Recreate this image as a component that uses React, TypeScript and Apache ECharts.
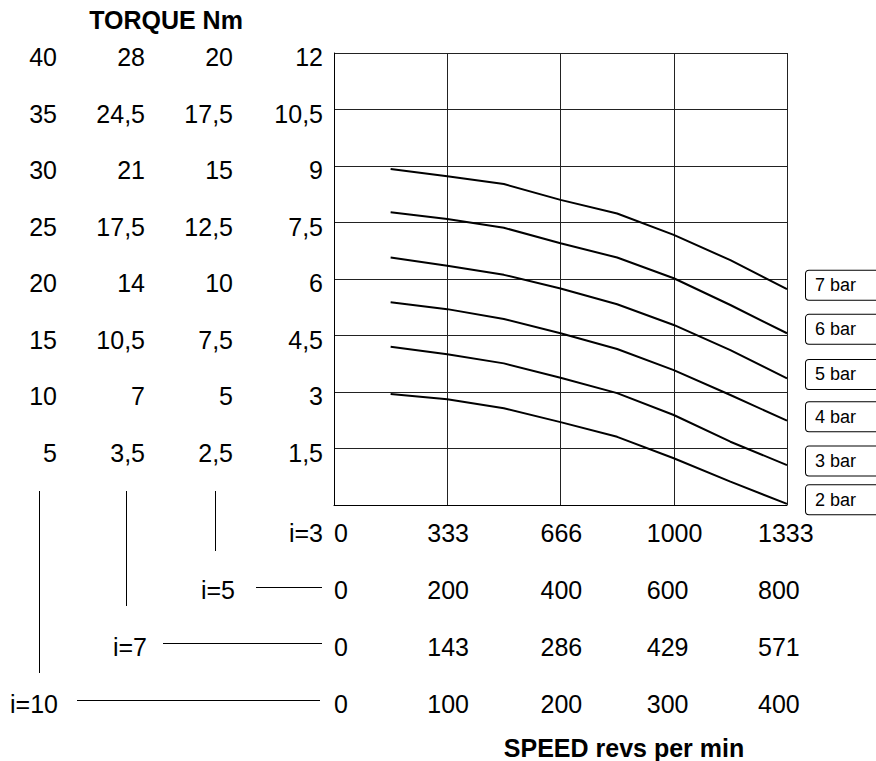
import React, { useEffect, useRef } from "react";
import * as echarts from "echarts";

// ---- data ----
const pressureNames = ["7 bar", "6 bar", "5 bar", "4 bar", "3 bar", "2 bar"];
// speed (rev/min) at i=10 for each sample point
const speedAtI10 = [50, 100, 150, 200, 250, 300, 350, 400];
// torque (Nm) at i=3
const torque7bar = [8.92, 8.73, 8.52, 8.1, 7.74, 7.17, 6.5, 5.73];
const torque6bar = [7.77, 7.59, 7.36, 6.95, 6.57, 6.02, 5.31, 4.56];
const torque5bar = [6.57, 6.35, 6.11, 5.75, 5.33, 4.78, 4.11, 3.36];
const torque4bar = [5.38, 5.2, 4.94, 4.56, 4.14, 3.58, 2.92, 2.24];
const torque3bar = [4.2, 4.0, 3.76, 3.38, 2.97, 2.39, 1.68, 1.06];
const torque2bar = [2.95, 2.81, 2.57, 2.2, 1.81, 1.24, 0.62, 0.03];
const curves = [torque7bar, torque6bar, torque5bar, torque4bar, torque3bar, torque2bar];

// gear ratios and their scales
const ratioLabels = ["i=3", "i=5", "i=7", "i=10"];
const torqueMax = [12, 20, 28, 40];
const torqueStep = [1.5, 2.5, 3.5, 5];
const speedLabelsI3 = ["0", "333", "666", "1000", "1333"];
const speedLabelsI5 = ["0", "200", "400", "600", "800"];
const speedLabelsI7 = ["0", "143", "286", "429", "571"];
const speedLabelsI10 = ["0", "100", "200", "300", "400"];
const speedLabelRows = [speedLabelsI3, speedLabelsI5, speedLabelsI7, speedLabelsI10];

const torqueTitle = "TORQUE Nm";
const speedTitle = "SPEED revs per min";

// ---- layout ----
const FONT = "'Liberation Sans', Arial, Helvetica, sans-serif";
const NUM_SIZE = 25;
const GRID = { left: 334, top: 53, width: 453, height: 452 };
const ROW_GAP = 57;
const YAXIS_OFFSETS = [0, 90, 178, 266];
const COL_WIDTHS = [10, 40, 40, 54, 58];

export default function App() {
  const ref = useRef<HTMLDivElement>(null);

  useEffect(() => {
    if (!ref.current) return;
    const chart = echarts.init(ref.current, undefined, { renderer: "svg" });

    const yRich = {
      v: { fontFamily: FONT, fontSize: NUM_SIZE, color: "#000", padding: [8, 0, 0, 0] },
    };

    const yAxes = torqueMax.map((mx, i) => ({
      type: "value",
      position: "left",
      min: 0,
      max: mx,
      interval: torqueStep[i],
      offset: YAXIS_OFFSETS[i],
      axisLine: { show: i === 0, lineStyle: { color: "#000", width: 1 } },
      axisTick: { show: false },
      splitLine: { show: i === 0, lineStyle: { color: "#222", width: 1 } },
      axisLabel: {
        show: true,
        showMinLabel: false,
        margin: 11,
        fontFamily: FONT,
        fontSize: NUM_SIZE,
        color: "#000",
        rich: yRich,
        formatter: (v: number) =>
          `{v|${String(Math.round(v * 10) / 10).replace(".", ",")}}`,
      },
    }));

    const rich: Record<string, any> = {};
    COL_WIDTHS.forEach((w, c) => {
      rich["c" + c] = { width: w, align: "left", fontFamily: FONT, fontSize: NUM_SIZE, color: "#000" };
    });

    const xAxes = speedLabelRows.map((labels, i) => {
      const isData = i === 3;
      const mx = isData ? 400 : 4;
      const step = isData ? 100 : 1;
      return {
        type: "value",
        position: "bottom",
        min: 0,
        max: mx,
        interval: step,
        offset: i * ROW_GAP,
        axisLine: { show: i === 0, lineStyle: { color: "#000", width: 1 } },
        axisTick: { show: false },
        splitLine: { show: i === 0, lineStyle: { color: "#222", width: 1 } },
        axisLabel: {
          show: true,
          margin: 15,
          alignMinLabel: "left",
          fontFamily: FONT,
          fontSize: NUM_SIZE,
          color: "#000",
          rich,
          formatter: (v: number) => {
            const c = Math.round(v / step);
            return `{c${c}|${labels[c] ?? ""}}`;
          },
        },
      };
    });

    const rowY = (i: number) => GRID.top + GRID.height + 28 + i * ROW_GAP;
    const txt = (x: number, i: number) => ({
      type: "text",
      x,
      y: rowY(i),
      style: {
        text: ratioLabels[i],
        font: `${NUM_SIZE}px ${FONT}`,
        fill: "#000",
        align: "right",
        verticalAlign: "middle",
      },
    });
    const ln = (x1: number, y1: number, x2: number, y2: number) => ({
      type: "line",
      shape: { x1, y1, x2, y2 },
      style: { stroke: "#000", lineWidth: 1 },
    });

    const graphics: any[] = [
      {
        type: "text",
        x: 166,
        y: 20,
        style: {
          text: torqueTitle,
          font: `bold 25px ${FONT}`,
          fill: "#000",
          align: "center",
          verticalAlign: "middle",
        },
      },
      {
        type: "text",
        x: 624,
        y: 748,
        style: {
          text: speedTitle,
          font: `bold 25px ${FONT}`,
          fill: "#000",
          align: "center",
          verticalAlign: "middle",
        },
      },
      txt(323, 0),
      txt(235, 1),
      txt(147, 2),
      txt(58, 3),
      // horizontal connectors
      ln(256, 587.5, 322, 587.5),
      ln(163, 643.5, 322, 643.5),
      ln(77, 700.5, 320, 700.5),
      // vertical connectors
      ln(215.5, 491, 215.5, 551),
      ln(126.5, 491, 126.5, 606),
      ln(39.5, 491, 39.5, 673),
    ];

    const series = curves.map((vals, k) => ({
      type: "line",
      name: pressureNames[k],
      xAxisIndex: 3,
      yAxisIndex: 0,
      data: vals.map((v, j) => [speedAtI10[j], v]),
      showSymbol: false,
      symbol: "none",
      clip: false,
      lineStyle: { color: "#000", width: 2 },
      endLabel: {
        show: true,
        formatter: pressureNames[k],
        distance: 19,
        offset: [0, -4],
        fontFamily: FONT,
        fontSize: 18,
        color: "#000",
        backgroundColor: "#fff",
        borderColor: "#000",
        borderWidth: 1,
        borderRadius: 3,
        padding: [6, 40, 5, 9],
      },
    }));

    chart.setOption({
      animation: false,
      backgroundColor: "#fff",
      grid: { ...GRID, containLabel: false },
      xAxis: xAxes,
      yAxis: yAxes,
      series,
      graphic: graphics,
    });

    return () => chart.dispose();
  }, []);

  return (
    <div
      ref={ref}
      style={{ position: "absolute", left: 0, top: 0, width: 876, height: 761 }}
    />
  );
}
